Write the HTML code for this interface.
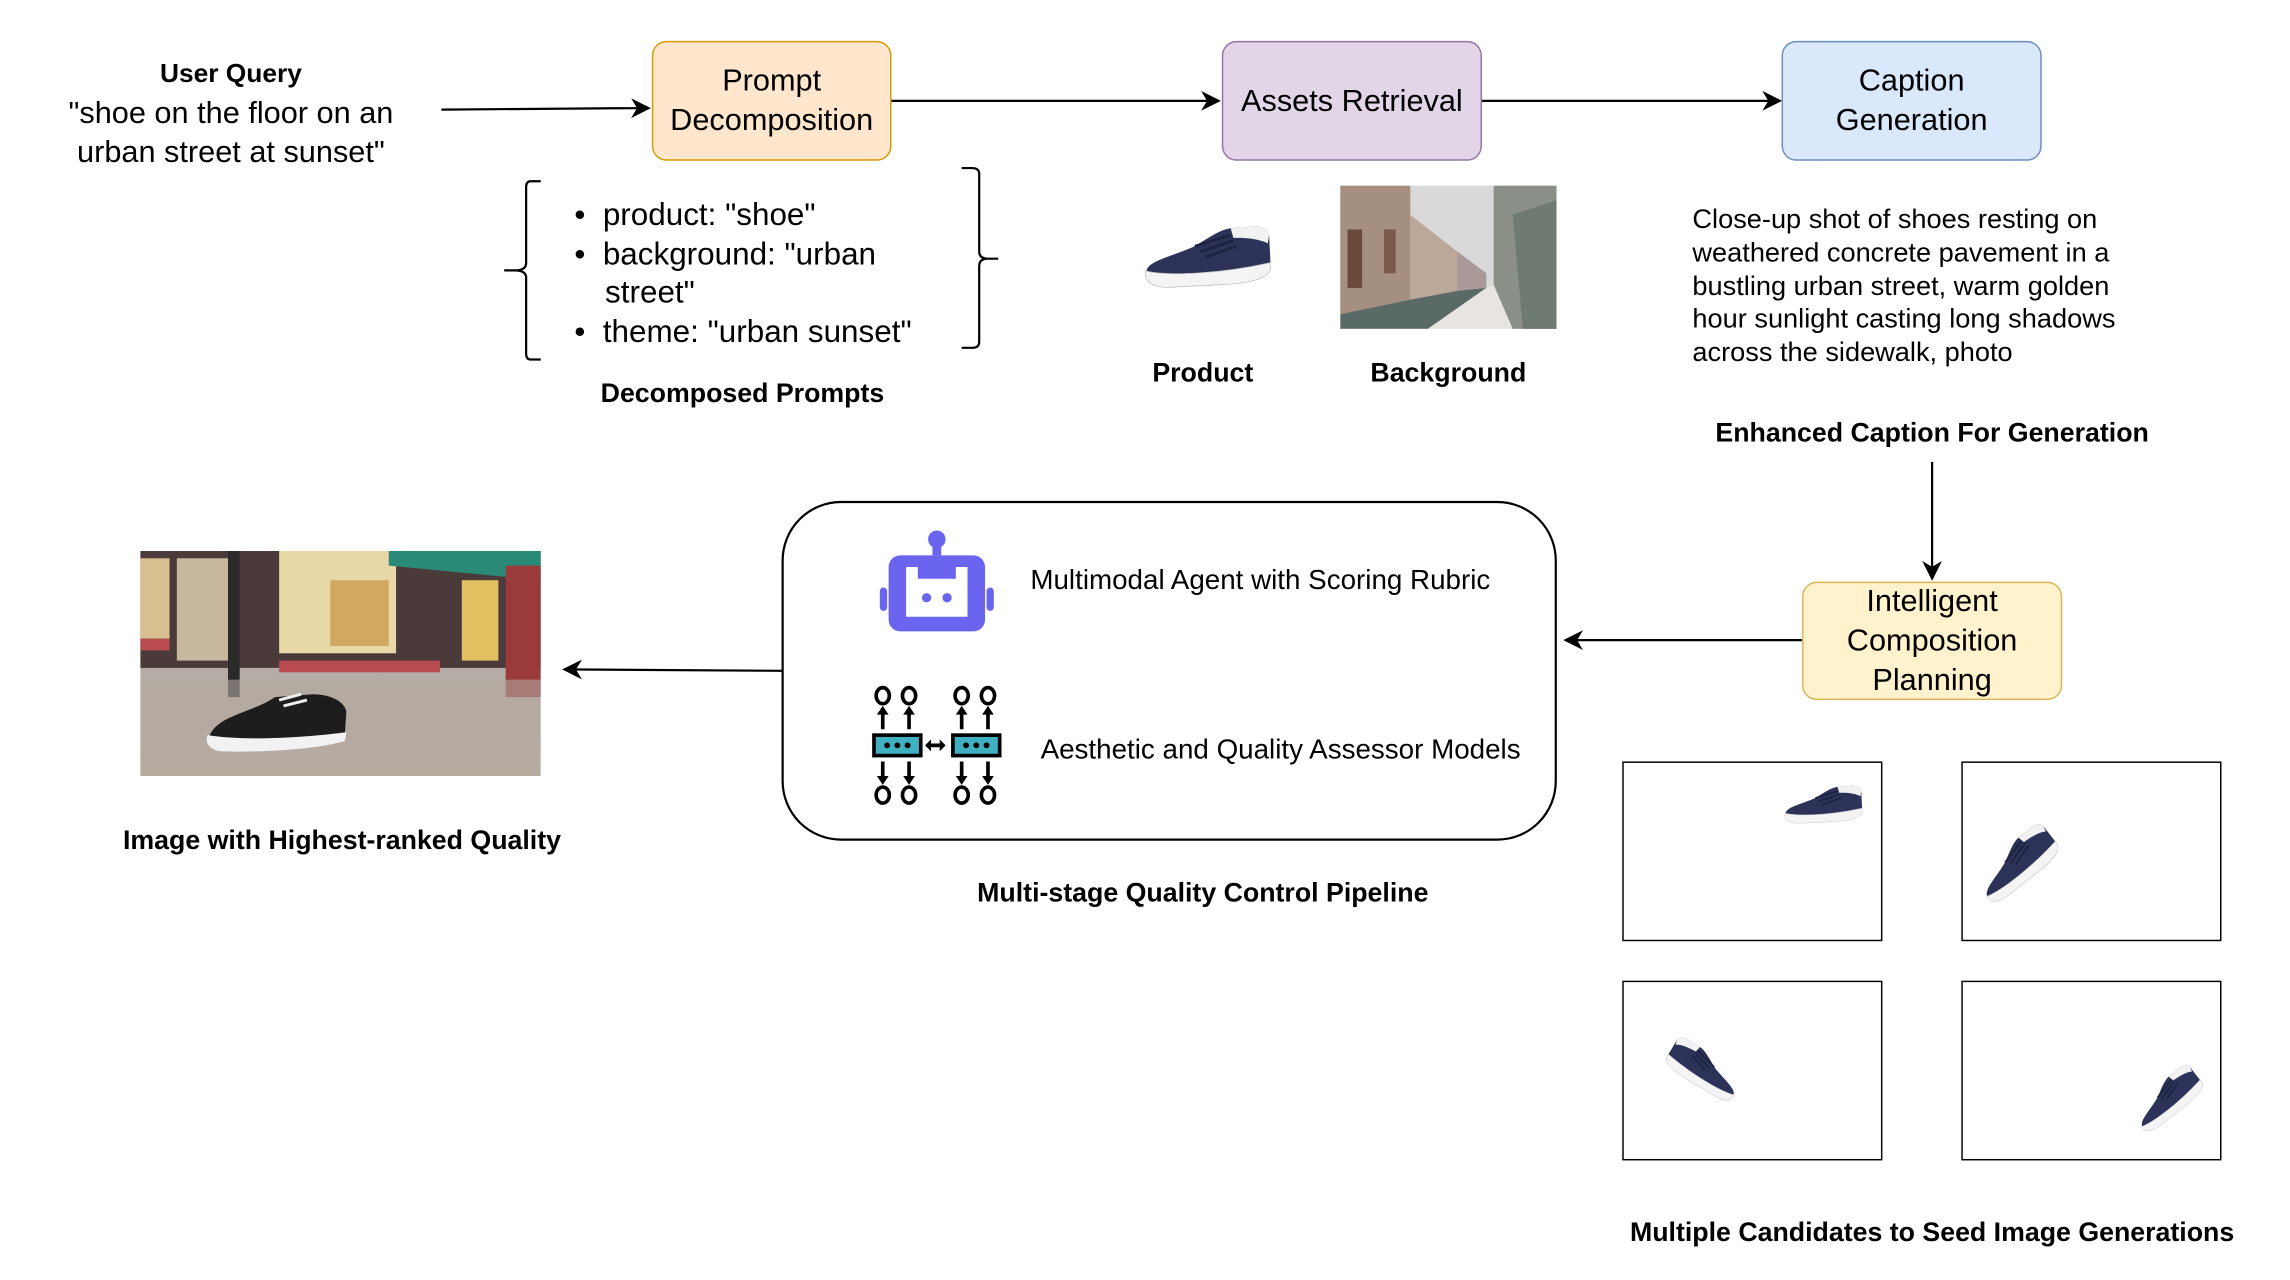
<!DOCTYPE html>
<html><head><meta charset="utf-8">
<style>
html,body{margin:0;padding:0;background:#fff;width:2290px;height:1280px;overflow:hidden}
#s{position:absolute;left:0;top:0;width:1567px;height:876px;transform:scale(1.4615);transform-origin:0 0;font-family:"Liberation Sans",sans-serif;color:#000}
.a{position:absolute}
.box{position:absolute;box-sizing:border-box;border-radius:10px;display:flex;align-items:center;justify-content:center;text-align:center;font-size:21px;line-height:27px;border:1.5px solid}
.lbl{position:absolute;font-weight:bold;font-size:18.3px;white-space:nowrap;transform:translateX(-50%)}
.cand{position:absolute;width:178px;height:123px;box-sizing:border-box;border:1.5px solid #000;background:#fff}
</style></head><body>
<div id="s">
<svg class="a" style="left:0;top:0" width="1567" height="876">
<defs>
<marker id="ar" viewBox="0 0 10 10" refX="9" refY="5" markerWidth="9" markerHeight="9" orient="auto-start-reverse"><path d="M0,0 L10,5 L0,10 L3,5 z" fill="#000"/></marker>
<symbol id="shoe" viewBox="0 0 100 50">
<path d="M5,35 C8,28 25,25 40,18 C50,12 58,6 66,5 L80,4 C88,3 93,5 94,10 L95,30 C95,36 90,40 80,41 L20,44 C10,45 4,42 5,35 z" fill="#2d3358"/>
<path d="M66,5 L80,4 C88,3 93,5 94,10 L93,16 C85,12 75,12 68,12 z" fill="#f2f2f2"/>
<path d="M4,36 C20,40 60,38 95,30 L95,35 C92,42 80,45 60,46 L20,48 C8,48 3,43 4,36 z" fill="#f4f4f4" stroke="#bbb" stroke-width="0.5"/>
<path d="M40,18 L66,10 M44,22 L68,14 M48,26 L70,18" stroke="#1d2240" stroke-width="2"/>
</symbol>
</defs>
<g stroke="#000" stroke-width="1.5" fill="none">
<path d="M302,75 C360,75 400,74 444,74" marker-end="url(#ar)"/>
<path d="M610,69 L834,69" marker-end="url(#ar)"/>
<path d="M1014,69 L1218,69" marker-end="url(#ar)"/>
<path d="M1322,316 L1322,396" marker-end="url(#ar)"/>
<path d="M1233,438 L1071,438" marker-end="url(#ar)"/>
<path d="M535,459 L386,458" marker-end="url(#ar)"/>
<path d="M370,124 L363,124 Q360,124 360,128 L360,180 Q360,185 352,185 L345,185 L352,185 Q360,185 360,190 L360,242 Q360,246 363,246 L370,246"/>
<path d="M658,115 L665,115 Q670,115 670,119 L670,172 Q670,177 676,177 L683,177 L676,177 Q670,177 670,182 L670,234 Q670,238 665,238 L658,238"/>
<rect x="535.5" y="343.5" width="529" height="231" rx="40" ry="40"/>
</g>
</svg>

<div class="a" style="left:20px;top:36px;width:276px;text-align:center;font-size:21px;line-height:27px"><b style="font-size:18px">User Query</b><br>"shoe on the floor on an<br>urban street at sunset"</div>

<div class="box" style="left:446px;top:28px;width:164px;height:82px;background:#ffe6cc;border-color:#d79b00">Prompt<br>Decomposition</div>
<div class="box" style="left:836px;top:28px;width:178px;height:82px;background:#e1d5e7;border-color:#9673a6">Assets Retrieval</div>
<div class="box" style="left:1219px;top:28px;width:178px;height:82px;background:#dae8fc;border-color:#6c8ebf">Caption<br>Generation</div>
<div class="box" style="left:1233px;top:398px;width:178px;height:81px;background:#fff2cc;border-color:#d6b656">Intelligent<br>Composition<br>Planning</div>

<div class="a" style="left:393px;top:134px;font-size:21.5px;line-height:26.5px">
<div>•&nbsp; product: "shoe"</div>
<div>•&nbsp; background: "urban</div>
<div style="padding-left:21px">street"</div>
<div>•&nbsp; theme: "urban sunset"</div>
</div>
<div class="lbl" style="left:508px;top:258px">Decomposed Prompts</div>

<svg class="a" style="left:780px;top:148px" width="94" height="54"><use href="#shoe" width="94" height="54"/></svg>
<svg class="a" style="left:917px;top:127px" width="148" height="98" viewBox="0 0 148 98">
<rect width="148" height="98" fill="#d9d9d9"/>
<path d="M0,0 L48,0 L48,78 L0,88 z" fill="#a58f80"/>
<path d="M48,20 L80,45 L80,72 L48,78 z" fill="#bba898"/>
<path d="M80,45 L100,60 L100,70 L80,72z" fill="#a99"/>
<path d="M105,0 L148,0 L148,98 L118,98 L105,68 z" fill="#8a8f88"/>
<path d="M118,20 L148,10 L148,98 L125,98z" fill="#6e7a72"/>
<path d="M0,88 L48,78 L80,72 L100,70 L60,98 L0,98z" fill="#5a6a66"/>
<path d="M60,98 L100,70 L105,68 L118,98z" fill="#e8e4df"/>
<rect x="5" y="30" width="10" height="40" fill="#6a4a3a"/><rect x="30" y="30" width="8" height="30" fill="#7a5a4a"/>
</svg>
<div class="lbl" style="left:823px;top:244px">Product</div>
<div class="lbl" style="left:991px;top:244px">Background</div>

<div class="a" style="left:1158px;top:139px;font-size:18.6px;line-height:22.8px;white-space:nowrap">Close-up shot of shoes resting on<br>weathered concrete pavement in a<br>bustling urban street, warm golden<br>hour sunlight casting long shadows<br>across the sidewalk, photo</div>
<div class="lbl" style="left:1322px;top:285px">Enhanced Caption For Generation</div>

<svg class="a" style="left:600px;top:362px" width="82" height="72" viewBox="0 0 82 72">
<g fill="#6b64ef"><circle cx="41" cy="7" r="6"/><rect x="38" y="8" width="6" height="10"/>
<path d="M16,18 h50 a8,8 0 0 1 8,8 v36 a8,8 0 0 1 -8,8 h-50 a8,8 0 0 1 -8,-8 v-36 a8,8 0 0 1 8,-8z M20,26 v34 h42 v-34 h-8 v8 h-26 v-8z" fill-rule="evenodd"/>
<circle cx="34" cy="47" r="3.2"/><circle cx="48" cy="47" r="3.2"/>
<rect x="2" y="40" width="5" height="16" rx="2.5"/><rect x="75" y="40" width="5" height="16" rx="2.5"/></g>
</svg>
<div class="a" style="left:705px;top:387px;font-size:19px">Multimodal Agent with Scoring Rubric</div>
<svg class="a" style="left:596px;top:467px" width="92" height="86" viewBox="0 0 92 86">
<g fill="none" stroke="#000" stroke-width="2.5">
<ellipse cx="8" cy="9" rx="4.5" ry="5.5"/><ellipse cx="26" cy="9" rx="4.5" ry="5.5"/><ellipse cx="62" cy="9" rx="4.5" ry="5.5"/><ellipse cx="80" cy="9" rx="4.5" ry="5.5"/>
<ellipse cx="8" cy="77" rx="4.5" ry="5.5"/><ellipse cx="26" cy="77" rx="4.5" ry="5.5"/><ellipse cx="62" cy="77" rx="4.5" ry="5.5"/><ellipse cx="80" cy="77" rx="4.5" ry="5.5"/>
<path d="M8,32 V20 M26,32 V20 M62,32 V20 M80,32 V20 M8,54 V66 M26,54 V66 M62,54 V66 M80,54 V66 M38,43 H50"/>
</g>
<g fill="#000"><path d="M4,22 L8,16 L12,22z M22,22 L26,16 L30,22z M58,22 L62,16 L66,22z M76,22 L80,16 L84,22z M4,64 L8,70 L12,64z M22,64 L26,70 L30,64z M58,64 L62,70 L66,64z M76,64 L80,70 L84,64z M37,43 L41,39 L41,47z M51,43 L47,39 L47,47z"/></g>
<rect x="2" y="36" width="32" height="14" fill="#3fb0c0" stroke="#000" stroke-width="2.5"/>
<rect x="56" y="36" width="32" height="14" fill="#3fb0c0" stroke="#000" stroke-width="2.5"/>
<g fill="#000"><circle cx="11" cy="43" r="2"/><circle cx="18" cy="43" r="2"/><circle cx="25" cy="43" r="2"/><circle cx="65" cy="43" r="2"/><circle cx="72" cy="43" r="2"/><circle cx="79" cy="43" r="2"/></g>
</svg>
<div class="a" style="left:712px;top:503px;font-size:19px">Aesthetic and Quality Assessor Models</div>
<div class="lbl" style="left:823px;top:600px">Multi-stage Quality Control Pipeline</div>

<svg class="a" style="left:96px;top:377px" width="274" height="154" viewBox="0 0 274 154">
<defs><linearGradient id="pv" x1="0" y1="0" x2="0" y2="1"><stop offset="0" stop-color="#a9a9b0"/><stop offset="1" stop-color="#c0aea0"/></linearGradient></defs>
<rect width="274" height="154" fill="url(#pv)"/>
<rect width="274" height="80" fill="#4a3a3a"/>
<rect x="0" y="5" width="20" height="55" fill="#d8c090"/><rect x="25" y="5" width="40" height="70" fill="#c9b8a0"/>
<rect x="95" y="0" width="80" height="70" fill="#e8d8a8"/><rect x="130" y="20" width="40" height="45" fill="#d0a860"/>
<rect x="95" y="75" width="110" height="8" fill="#b84a50"/><rect x="0" y="60" width="20" height="8" fill="#b84a50"/>
<path d="M170,0 L274,0 L274,20 L170,10z" fill="#2a8a78"/>
<rect x="220" y="20" width="25" height="55" fill="#e0c060"/><rect x="250" y="10" width="24" height="90" fill="#9a3a3a"/>
<rect x="60" y="0" width="8" height="100" fill="#2a2a2a"/>
<rect x="0" y="88" width="274" height="66" fill="#b0a8a0" opacity="0.6"/>
<path d="M48,125 C55,112 78,110 92,100 L118,98 C130,98 140,103 141,110 L140,125 C130,131 95,133 60,134 C50,134 45,131 48,125z" fill="#1d1d1d"/>
<path d="M46,126 C70,130 110,128 141,124 L140,130 C120,136 80,138 55,137 C47,136 44,131 46,126z" fill="#f2f2f2"/>
<path d="M95,102 L110,98 M98,106 L114,102" stroke="#eee" stroke-width="2"/>
</svg>
<div class="lbl" style="left:234px;top:564px">Image with Highest-ranked Quality</div>

<div class="cand" style="left:1110px;top:521px"><svg class="a" style="left:108px;top:12px" width="58" height="32"><use href="#shoe" width="58" height="32"/></svg></div>
<div class="cand" style="left:1342px;top:521px"><svg class="a" style="left:4px;top:50px;transform:rotate(-35deg)" width="66" height="36"><use href="#shoe" width="66" height="36"/></svg></div>
<div class="cand" style="left:1110px;top:671px"><svg class="a" style="left:26px;top:44px;transform:rotate(28deg) scaleX(-1)" width="58" height="30"><use href="#shoe" width="58" height="30"/></svg></div>
<div class="cand" style="left:1342px;top:671px"><svg class="a" style="left:112px;top:64px;transform:rotate(-35deg)" width="56" height="30"><use href="#shoe" width="56" height="30"/></svg></div>
<div class="lbl" style="left:1322px;top:832px">Multiple Candidates to Seed Image Generations</div>
</div>
</body></html>
